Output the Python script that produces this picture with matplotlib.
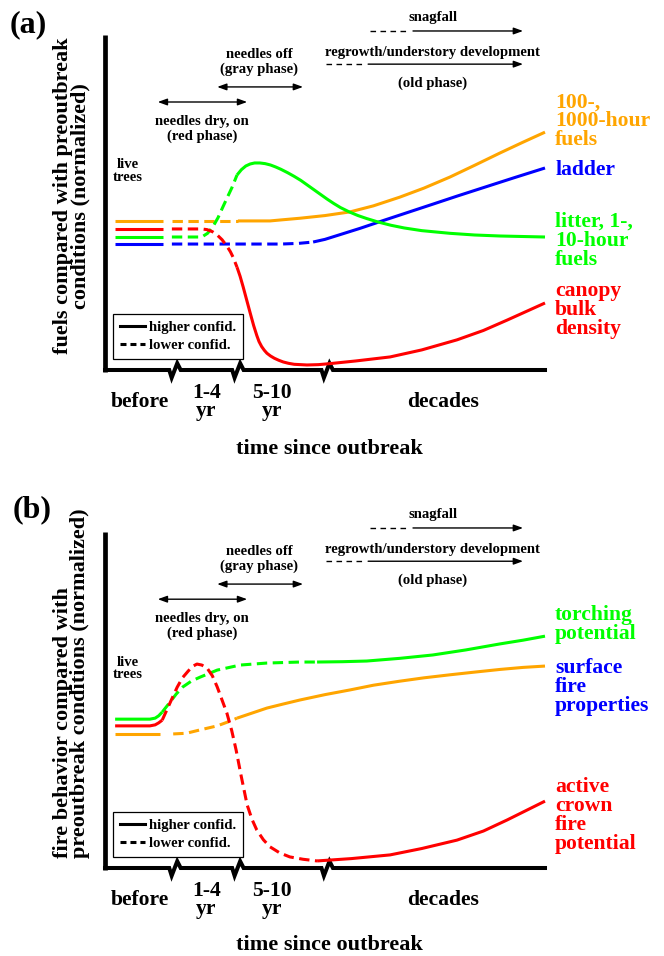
import matplotlib
matplotlib.use("Agg")
import matplotlib.pyplot as plt
import numpy as np
from matplotlib.lines import Line2D

plt.rcParams["font.family"] = "serif"
plt.rcParams["font.serif"] = ["Liberation Serif", "DejaVu Serif"]
plt.rcParams["font.weight"] = "bold"

ORANGE = "#FFA500"
RED = "#FF0000"
GREEN = "#00FF00"
BLUE = "#0000FF"

# time axis: 0-100 (arbitrary, broken scale), level: 0-100 (normalized)
STAGES = ["before", "1-4\nyr", "5-10\nyr", "decades"]
stage_pos = [8.0, 23.0, 38.0, 76.8]
axis_breaks = [15.9, 30.2, 50.5]

# ---- panel (a): fuels ----
t_a_coarse = [2.3, 13.2, 15.2, 22.0, 30.2, 33.0, 37.5, 40.0, 44.3, 50.0, 55.7,
              61.0, 67.0, 72.5, 78.4, 84.0, 89.8, 95.0, 100]
coarse_fuels = [44.5, 44.5, 44.5, 44.5, 44.5, 44.5, 44.5, 44.8, 45.3, 46.1, 47.2,
                49.0, 51.6, 54.3, 57.6, 61.1, 64.8, 68.0, 71.0]

t_a_canopy = [2.3, 13.2, 15.2, 22.0, 23.2, 24.4, 25.5, 26.6, 27.7, 28.5, 29.1, 30.0,
              30.7, 31.4, 32.2, 33.0, 33.8, 34.5, 35.0, 35.6, 36.2, 36.8, 37.6,
              38.5, 39.5, 40.5, 41.7, 43.0, 45.9,
              48.5, 51.1, 57.0, 64.8, 72.0, 80.0, 86.0, 91.4, 100]
canopy_density = [42.1, 42.1, 42.1, 42.1, 41.9, 41.3, 40.3, 38.9, 37.0, 35.3, 33.7, 30.7,
                  28.0, 24.8, 20.9, 17.0, 13.2, 10.3, 8.5, 7.0, 5.9, 5.0, 4.2,
                  3.5, 2.9, 2.4, 2.0, 1.7, 1.5,
                  1.6, 1.9, 2.7, 3.9, 6.0, 9.0, 11.8, 14.9, 20.0]

t_a_fine = [2.3, 13.2, 15.2, 22.0, 23.3, 24.5, 25.7, 26.8, 27.9, 28.9, 30.0,
            31.0, 32.0, 33.0, 34.0, 35.2, 36.4, 37.6, 38.8, 40.0, 41.5, 43.0, 44.5,
            46.0, 47.5, 49.0, 50.5, 52.0, 53.5, 55.5, 57.5, 59.5, 62.0, 65.0, 68.0,
            72.0, 78.4, 84.0, 89.8, 100]
fine_fuels = [39.7, 39.7, 39.7, 39.7, 40.8, 42.7, 45.5, 48.7, 51.8, 54.6, 58.2,
              59.8, 60.9, 61.5, 61.8, 61.8, 61.6, 61.2, 60.6, 59.9, 58.9, 57.8, 56.6,
              55.2, 53.8, 52.4, 51.0, 49.7, 48.5, 47.2, 46.1, 45.2, 44.2, 43.2, 42.4,
              41.6, 40.8, 40.3, 40.0, 39.7]

t_a_ladder = [2.3, 13.2, 15.2, 30.0, 40.0, 44.0, 47.3, 50.0, 53.4, 58.0, 63.2,
              68.5, 74.5, 80.0, 85.9, 93.0, 100]
ladder_fuels = [37.6, 37.6, 37.6, 37.6, 37.6, 37.8, 38.2, 39.0, 40.4, 42.3, 44.6,
                46.9, 49.5, 51.9, 54.4, 57.4, 60.3]

# ---- panel (b): fire behavior ----
t_b_torch = [2.3, 10.2, 11.4, 12.2, 13.0, 14.8, 16.2, 17.7, 19.6, 21.6, 25.5, 30.7,
             36.8, 44.3, 48.2, 54.0, 59.5, 67.0, 74.5, 82.0, 89.8, 95.0, 100]
torching = [44.3, 44.3, 44.6, 45.3, 46.4, 49.4, 51.8, 53.9, 55.6, 56.8, 58.9, 60.4,
            61.0, 61.3, 61.3, 61.4, 61.6, 62.4, 63.4, 64.9, 66.7, 67.8, 69.0]

t_b_crown = [2.3, 10.2, 11.4, 12.2, 13.0, 14.8, 16.4, 17.6, 18.9, 19.9, 20.9, 22.0,
             23.2, 24.4, 25.5, 26.6, 27.7, 28.8, 29.8, 30.9, 32.3, 33.4, 34.5, 36.0,
             37.5, 39.7, 42.0, 45.0, 48.2, 56.0, 64.8, 72.0, 80.0, 86.0, 91.4, 100]
active_crown = [42.3, 42.3, 42.6, 43.2, 44.0, 49.2, 53.8, 56.6, 58.6, 60.0, 60.7, 60.4,
                59.5, 57.2, 53.9, 50.0, 46.1, 40.9, 35.1, 27.7, 18.8, 14.5, 11.3, 8.4,
                6.3, 4.5, 3.3, 2.6, 2.1, 2.8, 3.9, 5.8, 8.3, 11.0, 14.3, 19.9]

t_b_surface = [2.3, 12.5, 15.5, 18.5, 21.6, 25.5, 28.0, 30.0, 33.4, 36.8, 40.5,
               44.3, 50.0, 55.7, 61.0, 67.0, 72.5, 78.4, 84.0, 89.8, 95.0, 100]
surface_fire = [39.9, 39.9, 39.9, 40.1, 41.1, 42.3, 43.5, 44.6, 46.1, 47.6, 48.8,
                50.0, 51.6, 53.0, 54.4, 55.6, 56.6, 57.5, 58.3, 59.1, 59.7, 60.1]

# phase spans (time units)
red_phase = (12.0, 32.3)
gray_phase = (25.5, 45.0)
snag_dashed = (60.2, 68.6)
snag_solid = (70.0, 95.0)
regrow_dashed = (50.2, 58.4)
regrow_solid = (59.8, 95.0)

LW = 2.2
DASH = (0, (3.4, 1.8))


def split_plot(ax, t, v, color, solid_until, dash_from, dash_until):
    t = np.asarray(t)
    v = np.asarray(v)
    pre = t <= solid_until
    mid = (t >= dash_from) & (t <= dash_until)
    post = t >= dash_until
    kw = dict(color=color, lw=LW, clip_on=False,
              solid_capstyle="butt", dash_capstyle="butt", zorder=3)
    ax.plot(t[pre], v[pre], **kw)
    ax.plot(t[mid], v[mid], linestyle=DASH, **kw)
    ax.plot(t[post], v[post], **kw)


def draw_frame(ax):
    ax.set_xlim(0, 100)
    ax.set_ylim(0, 100)
    for s in ax.spines.values():
        s.set_visible(False)
    ax.set_yticks([])
    ax.plot([0, 0], [-0.6, 100], color="black", lw=3.4, clip_on=False,
            solid_capstyle="butt")
    xs, ys = [0], [0]
    for b in axis_breaks:
        xs += [b - 1.3, b - 0.75, b + 0.52, b + 1.3]
        ys += [0, -2.3, 2.0, 0]
    xs.append(100)
    ys.append(0)
    ax.plot(xs, ys, color="black", lw=2.9, clip_on=False, solid_joinstyle="miter")

    ax.set_xticks(stage_pos, STAGES, fontsize=15.6)
    ax.tick_params(axis="x", length=0, pad=23)
    for lab in ax.get_xticklabels():
        lab.set_verticalalignment("center")
        lab.set_linespacing(0.88)


def arrow(ax, x0, x1, y, style):
    ax.annotate("", xy=(x1, y), xytext=(x0, y), annotation_clip=False,
                arrowprops=dict(arrowstyle=style + ",head_length=0.55,head_width=0.2",
                                color="black", lw=1.0, shrinkA=0, shrinkB=0,
                                mutation_scale=10))


def draw_phases(ax):
    small = dict(fontsize=10.6, ha="center", va="center", clip_on=False)
    arrow(ax, red_phase[0], red_phase[1], 80.0, "<|-|>")
    ax.text(22.0, 72.0, "needles dry, on\n(red phase)", linespacing=1.12, **small)
    arrow(ax, gray_phase[0], gray_phase[1], 84.5, "<|-|>")
    ax.text(35.0, 92.0, "needles off\n(gray phase)", linespacing=1.12, **small)

    ax.plot(snag_dashed, [101.2, 101.2], color="black", lw=1.0,
            ls=(0, (4, 3.2)), clip_on=False)
    arrow(ax, snag_solid[0], snag_solid[1], 101.2, "-|>")
    ax.text(74.5, 105.1, "snagfall", **small)

    ax.plot(regrow_dashed, [91.3, 91.3], color="black", lw=1.0,
            ls=(0, (4, 3.2)), clip_on=False)
    arrow(ax, regrow_solid[0], regrow_solid[1], 91.3, "-|>")
    ax.text(74.5, 94.9, "regrowth/understory development", **small)
    ax.text(74.5, 85.7, "(old phase)", **small)

    ax.text(5.2, 59.4, "live\ntrees", linespacing=0.92, **small)

    handles = [
        Line2D([], [], color="black", lw=LW, label="higher confid."),
        Line2D([], [], color="black", lw=LW, ls=(0, (1.96, 1.3)), label="lower confid."),
    ]
    leg = ax.legend(handles=handles, loc="lower left", bbox_to_anchor=(0.018, 0.033),
                    borderaxespad=0, fontsize=10.6, frameon=True, fancybox=False,
                    edgecolor="black", framealpha=1, handlelength=1.7,
                    handletextpad=0.3, borderpad=0.45, labelspacing=0.35)
    leg.get_frame().set_linewidth(0.9)


fig = plt.figure(figsize=(6.64, 9.56), dpi=100)
ax_a = fig.add_axes([105 / 664, 1 - 370 / 956, 440 / 664, 335 / 956])
ax_b = fig.add_axes([105 / 664, 1 - 868 / 956, 440 / 664, 336 / 956])

big = dict(fontsize=15.6, ha="left", va="center", linespacing=0.93, clip_on=False)

# panel (a)
draw_frame(ax_a)
draw_phases(ax_a)
split_plot(ax_a, t_a_coarse, coarse_fuels, ORANGE, 13.2, 15.2, 30.2)
split_plot(ax_a, t_a_ladder, ladder_fuels, BLUE, 13.2, 15.2, 47.3)
split_plot(ax_a, t_a_fine, fine_fuels, GREEN, 13.2, 15.2, 30.0)
split_plot(ax_a, t_a_canopy, canopy_density, RED, 13.2, 15.2, 30.0)
ax_a.text(102.3, 74.3, "100-,\n1000-hour\nfuels", color=ORANGE, **big)
ax_a.text(102.3, 59.7, "ladder", color=BLUE, **big)
ax_a.text(102.3, 38.5, "litter, 1-,\n10-hour\nfuels", color=GREEN, **big)
ax_a.text(102.3, 17.9, "canopy\nbulk\ndensity", color=RED, **big)
ax_a.text(-0.076, 0.519, "fuels compared with preoutbreak\nconditions (normalized)",
          transform=ax_a.transAxes, rotation=90, ha="center", va="center",
          fontsize=16, linespacing=0.85)
ax_a.text(0.511, -0.236, "time since outbreak", transform=ax_a.transAxes,
          ha="center", va="center", fontsize=16)

# panel (b)
draw_frame(ax_b)
draw_phases(ax_b)
split_plot(ax_b, t_b_surface, surface_fire, ORANGE, 12.5, 15.5, 30.0)
split_plot(ax_b, t_b_torch, torching, GREEN, 13.0, 13.0, 48.2)
split_plot(ax_b, t_b_crown, active_crown, RED, 13.0, 13.0, 48.2)
ax_b.text(102.3, 72.6, "torching\npotential", color=GREEN, **big)
ax_b.text(102.3, 53.9, "surface\nfire\nproperties", color=BLUE, **big)
ax_b.text(102.3, 15.6, "active\ncrown\nfire\npotential", color=RED, **big)
ax_b.text(-0.076, 0.03, "fire behavior compared with\npreoutbreak conditions (normalized)",
          transform=ax_b.transAxes, rotation=90, ha="center", va="bottom",
          multialignment="left", fontsize=16, linespacing=0.85)
ax_b.text(0.511, -0.230, "time since outbreak", transform=ax_b.transAxes,
          ha="center", va="center", fontsize=16)

fig.text(10 / 664, 1 - 25 / 956, "(a)", fontsize=23, ha="left", va="center")
fig.text(13 / 664, 1 - 510 / 956, "(b)", fontsize=23, ha="left", va="center")

fig.savefig("out.png", dpi=100)
